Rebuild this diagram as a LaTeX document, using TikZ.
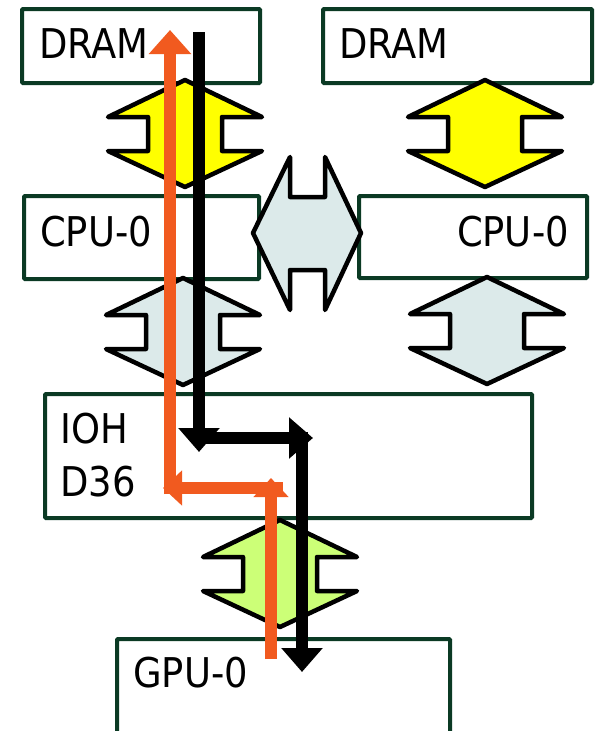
\documentclass[tikz,border=0pt]{standalone}
\usepackage{fontspec}
\setmainfont{DejaVu Sans Condensed}
\usepackage{tikz}
\usetikzlibrary{arrows.meta}
\usepackage{xcolor}
\definecolor{boxgreen}{HTML}{0B3A24}
\definecolor{busyellow}{HTML}{FFFF00}
\definecolor{busgrey}{HTML}{DCEAEA}
\definecolor{buslime}{HTML}{CCFF77}
\definecolor{wrorange}{HTML}{F15A1F}
\tikzset{
    unit/.style={draw=boxgreen, fill=white, line width=4pt, rounded corners=1pt, inner sep=0pt, anchor=north west},
    lbl/.style={inner sep=0pt, font=\fontsize{41}{49}\selectfont},
    bus/.style={draw=black, line width=4.5pt, line join=round},
    rdpath/.style={draw=black, line width=12.5pt, -{Triangle[length=24pt,width=40pt]}},
    wrpath/.style={draw=wrorange, line width=12.5pt, -{Triangle[length=24pt,width=41pt]}},
    wrshort/.style={draw=wrorange, line width=12.5pt, -{Triangle[length=19pt,width=34pt]}}
}

\begin{document}
\begin{tikzpicture}[x=1pt, y=-1pt]
    \useasboundingbox (0,0) rectangle (595,731);
    % units
    \node[unit, minimum width=238pt, minimum height=74pt] (dramL) at (20,7) {};
    \node[unit, minimum width=269pt, minimum height=74pt] (dramR) at (321,7) {};
    \node[unit, minimum width=235pt, minimum height=83pt] (cpuL) at (22,194) {};
    \node[unit, minimum width=228pt, minimum height=82pt] (cpuR) at (357,194) {};
    \node[unit, minimum width=487pt, minimum height=124pt] (ioh) at (43,392) {};
    \node[unit, minimum width=333pt, minimum height=94pt] (gpu) at (115,637) {};
    % labels
    \node[lbl, anchor=base west] (dramLtxt) at (39,58) {DRAM};
    \node[lbl, anchor=base west] (dramRtxt) at (339,58) {DRAM};
    \node[lbl, anchor=base west] (cpuLtxt) at (40,246) {CPU-0};
    \node[lbl, anchor=base east] (cpuRtxt) at (569,246) {CPU-0};
    \node[lbl, anchor=base west] (iohtxt) at (60,443) {IOH};
    \node[lbl, anchor=base west] (d36txt) at (60,496) {D36};
    \node[lbl, anchor=base west] (gputxt) at (133,687) {GPU-0};
    % links
    \foreach \cx/\ty/\col in {185/80/busyellow, 485/80/busyellow, 183/278/busgrey, 487/277/busgrey, 280/520/buslime}
        \draw[bus, fill=\col] (\cx,\ty) -- ++(-77,37) -- ++(40,0) -- ++(0,34) -- ++(-40,0) -- ++(77,36)
            -- ++(77,-36) -- ++(-40,0) -- ++(0,-34) -- ++(40,0) -- cycle;
    \draw[bus, fill=busgrey] (253,233) -- (290,157) -- (290,197) -- (325,197) -- (325,157) -- (361,233)
        -- (325,310) -- (325,270) -- (290,270) -- (290,310) -- cycle;
    % read path
    \coordinate (rd0) at (199,32);
    \coordinate (rd1) at (199,452);
    \coordinate (rd2) at (192,438);
    \coordinate (rd3) at (313,438);
    \coordinate (rd4) at (302,432);
    \coordinate (rd5) at (302,672);
    \draw[rdpath] (rd0) -- (rd1);
    \draw[rdpath] (rd2) -- (rd3);
    \draw[rdpath] (rd4) -- (rd5);
    % write path
    \coordinate (wr0) at (271,659);
    \coordinate (wr1) at (271,478);
    \coordinate (wr2) at (283,488);
    \coordinate (wr3) at (163,488);
    \coordinate (wr4) at (170,494);
    \coordinate (wr5) at (170,30);
    \draw[wrshort] (wr0) -- (wr1);
    \draw[wrshort] (wr2) -- (wr3);
    \draw[wrpath] (wr4) -- (wr5);
\end{tikzpicture}
\end{document}
